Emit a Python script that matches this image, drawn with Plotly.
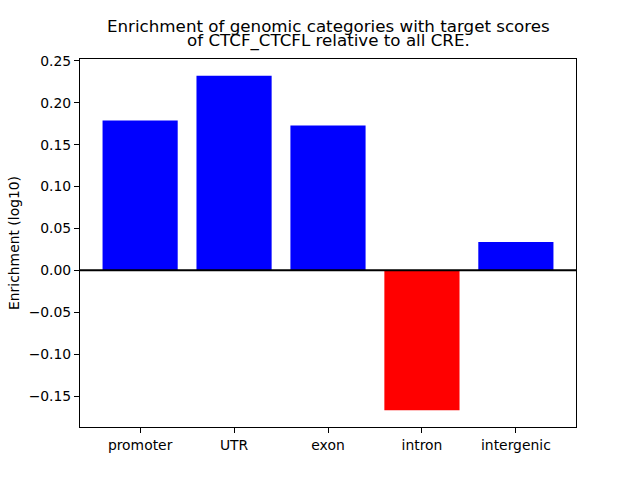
import plotly.graph_objects as go

categories = ["promoter", "UTR", "exon", "intron", "intergenic"]
values = [0.1787, 0.2322, 0.1728, -0.1669, 0.0338]
colors = ["blue" if v >= 0 else "red" for v in values]
ytickvals = [-0.15, -0.10, -0.05, 0.00, 0.05, 0.10, 0.15, 0.20, 0.25]
title_lines = ["Enrichment of genomic categories with target scores",
               "of CTCF_CTCFL relative to all CRE."]
ylabel = "Enrichment (log10)"

fig = go.Figure(go.Bar(x=list(range(len(categories))), y=values, marker_color=colors,
                       marker_line_width=0, width=0.8))

font = "DejaVu Sans"
fig.update_layout(
    width=640, height=480,
    margin=dict(l=80, r=64, t=59, b=53, autoexpand=False),
    paper_bgcolor="white", plot_bgcolor="white",
    showlegend=False,
    font=dict(family=font, size=13.9, color="black"),
    xaxis=dict(range=[-0.64, 4.64], tickvals=list(range(len(categories))), ticktext=categories,
               showgrid=False, zeroline=False, showline=True, linecolor="black", linewidth=1, mirror=True,
               ticks="outside", ticklen=5, tickcolor="black", tickfont=dict(size=13.9)),
    yaxis=dict(range=[-0.1869, 0.2522], tickvals=ytickvals, tickformat=".2f",
               showgrid=False, zeroline=False, showline=True, linecolor="black", linewidth=1, mirror=True,
               ticks="outside", ticklen=5, tickcolor="black", tickfont=dict(size=13.9)),
)
for txt, yp in zip(title_lines, [1.0910, 1.0490]):
    fig.add_annotation(text=txt, xref="paper", yref="paper", x=0.5, y=yp,
                       xanchor="center", yanchor="middle", showarrow=False,
                       font=dict(family=font, size=16.7, color="black"))
fig.add_annotation(text=ylabel, xref="paper", yref="paper", x=-0.1331, y=0.5,
                   xanchor="center", yanchor="middle", textangle=-90, showarrow=False,
                   font=dict(family=font, size=13.9, color="black"))
fig.add_shape(type="line", xref="paper", x0=0, x1=1, yref="y", y0=0, y1=0,
              line=dict(color="black", width=2))
fig.write_html("out.html", config={"displayModeBar": False},
               post_script="document.body.style.margin='0';document.body.style.padding='0';")
